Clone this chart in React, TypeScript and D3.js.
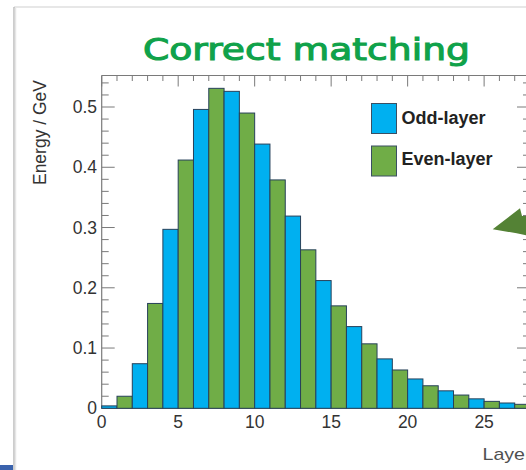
import React from "react";
import * as d3 from "d3";

// Energy deposited per layer (GeV). Bins alternate: odd-layer (blue) at bins 0,2,4..., even-layer (green) at bins 1,3,5...
const oddLayerEnergy = [0.004, 0.074, 0.297, 0.496, 0.526, 0.4385, 0.319, 0.212, 0.1356, 0.082, 0.0487, 0.029, 0.0157, 0.0088];
const evenLayerEnergy = [0.02, 0.174, 0.412, 0.531, 0.49, 0.379, 0.263, 0.17, 0.107, 0.0636, 0.0374, 0.022, 0.0115, 0.0066];
const xTickLabels = [0, 5, 10, 15, 20, 25];
const yTickLabels = [0, 0.1, 0.2, 0.3, 0.4, 0.5];
const legendLabels = ["Odd-layer", "Even-layer"];

const W = 526;
const H = 470;
const BLUE = "#00b0f0";
const GREEN = "#70ad47";
const FONT = "'Liberation Sans', Arial, Helvetica, sans-serif";

export default function App() {
  const x = d3.scaleLinear().domain([0, 28]).range([101.7, 530]);
  const y = d3.scaleLinear().domain([0, 0.5523]).range([408.3, 75.5]);

  const bins: { i: number; v: number; odd: boolean }[] = [];
  oddLayerEnergy.forEach((v, k) => bins.push({ i: 2 * k, v, odd: true }));
  evenLayerEnergy.forEach((v, k) => bins.push({ i: 2 * k + 1, v, odd: false }));
  bins.sort((a, b) => a.i - b.i);

  const xMinor = d3.range(0, 29, 1);
  const yMinor = d3.range(0, 0.551, 0.02);
  const x0 = x(0);
  const yTop = y.range()[1];
  const yBot = y(0);
  const xRight = x(28);
  const frame = "#7a7a7a";

  return (
    <svg width={W} height={H} style={{ position: "absolute", left: 0, top: 0, background: "#fff" }}>
      <rect x={0} y={0} width={W} height={H} fill="#fff" />
      {/* slide border */}
      <line x1={14} y1={7} x2={W} y2={7} stroke="#cfcfcf" strokeWidth={1.2} />
      <line x1={14} y1={7} x2={14} y2={H} stroke="#bdbdbd" strokeWidth={1.5} />
      <line x1={15.5} y1={8} x2={15.5} y2={H} stroke="#e6e6e6" strokeWidth={1.5} />
      <rect x={0} y={465} width={13} height={5} fill="#3b63ad" />

      {/* title */}
      <text x={143} y={60} fontFamily="'DejaVu Sans', sans-serif" fontSize={30.5}
        fill="#10a24a" stroke="#10a24a" strokeWidth={1.1} textLength={327} lengthAdjust="spacingAndGlyphs">Correct matching</text>

      {/* top ticks */}
      {xMinor.map((t) => (
        <line key={"tt" + t} x1={x(t)} x2={x(t)} y1={yTop} y2={yTop + (t % 5 === 0 ? 11 : 5.5)} stroke={frame} strokeWidth={1} />
      ))}
      {/* left & right ticks */}
      {yMinor.map((t, k) => {
        const major = k % 5 === 0;
        const len = major ? 13 : 7;
        return (
          <g key={"yt" + k}>
            <line x1={x0} x2={x0 + len} y1={y(t)} y2={y(t)} stroke={frame} strokeWidth={1} />
            <line x1={xRight} x2={xRight - len} y1={y(t)} y2={y(t)} stroke={frame} strokeWidth={1} />
          </g>
        );
      })}

      {/* frame */}
      <line x1={x0} x2={x0} y1={yTop} y2={yBot} stroke={frame} strokeWidth={1.2} />
      <line x1={x0} x2={xRight} y1={yTop} y2={yTop} stroke={frame} strokeWidth={1.2} />
      <line x1={x0} x2={xRight} y1={yBot} y2={yBot} stroke={frame} strokeWidth={1.2} />

      {/* bars */}
      {bins.map((b) => (
        <rect key={"b" + b.i} x={x(b.i)} y={y(b.v)} width={x(b.i + 1) - x(b.i)} height={yBot - y(b.v)}
          fill={b.odd ? BLUE : GREEN} stroke="#27415a" strokeWidth={1} />
      ))}

      {/* tick labels */}
      {yTickLabels.map((t) => (
        <text key={"yl" + t} x={97} y={y(t) + 6} textAnchor="end" fontFamily={FONT} fontSize={17.5} fill="#333">
          {t === 0 ? "0" : d3.format(".1f")(t)}
        </text>
      ))}
      {xTickLabels.map((t) => (
        <text key={"xl" + t} x={x(t)} y={428} textAnchor="middle" fontFamily={FONT} fontSize={17.5} fill="#333">
          {t}
        </text>
      ))}

      {/* axis titles */}
      <text transform="translate(45.5,132.5) rotate(-90)" textAnchor="middle" fontFamily={FONT} fontSize={17.5} fill="#333">
        Energy / GeV
      </text>
      <text x={482.5} y={460} fontFamily={FONT} fontSize={17} fill="#505050" textLength={49} lengthAdjust="spacingAndGlyphs">Layer</text>

      {/* legend */}
      {legendLabels.map((l, k) => (
        <g key={l}>
          <rect x={371.5} y={103.5 + k * 42.5} width={25} height={30} fill={k === 0 ? BLUE : GREEN} stroke="#3a4f63" strokeWidth={1} />
          <text x={401.5} y={124 + k * 41} fontFamily={FONT} fontWeight="bold" fontSize={18} fill="#222">{l}</text>
        </g>
      ))}

      {/* arrow */}
      <polygon points="492.7,229.3 520,208.3 522,216 530,216 530,236 516.7,233.3" fill="#548235" />
    </svg>
  );
}
